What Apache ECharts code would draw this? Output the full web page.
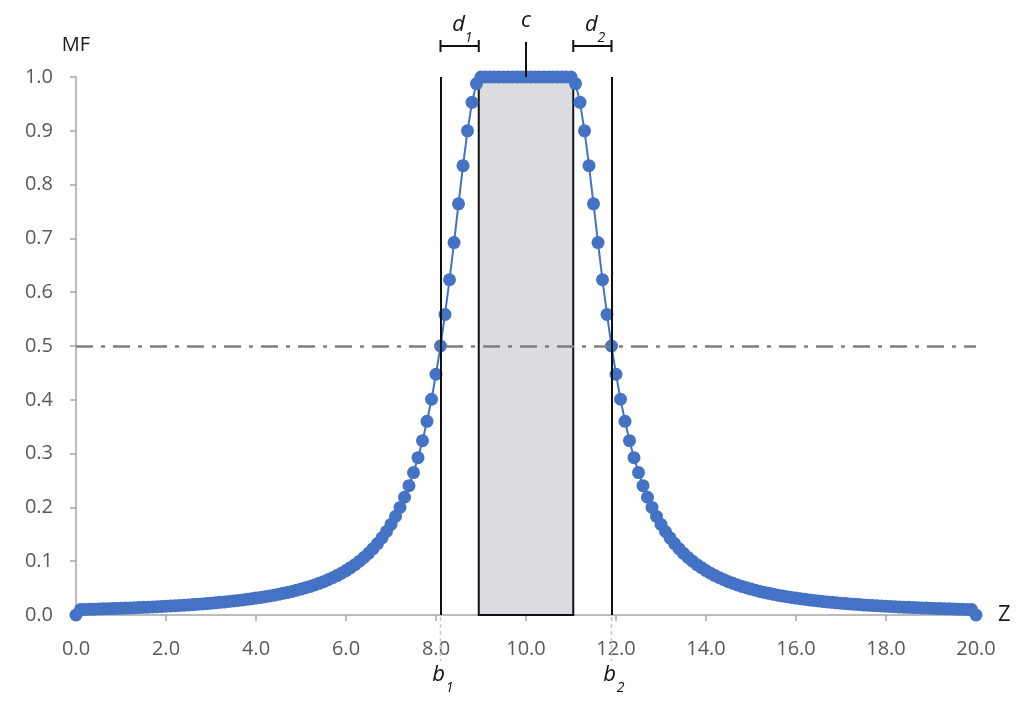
<!DOCTYPE html>
<html>
<head>
<meta charset="utf-8">
<style>
  html, body { margin: 0; padding: 0; background: #ffffff; }
  #chart { width: 1024px; height: 706px; }
</style>
<script src="https://cdn.jsdelivr.net/npm/echarts@6/dist/echarts.min.js"></script>
</head>
<body>
<div id="chart"></div>
<script>
// ---- data ----
const zValues = [
  0.0,0.1,0.2,0.3,0.4,0.5,0.6,0.7,0.8,0.9,
  1.0,1.1,1.2,1.3,1.4,1.5,1.6,1.7,1.8,1.9,
  2.0,2.1,2.2,2.3,2.4,2.5,2.6,2.7,2.8,2.9,
  3.0,3.1,3.2,3.3,3.4,3.5,3.6,3.7,3.8,3.9,
  4.0,4.1,4.2,4.3,4.4,4.5,4.6,4.7,4.8,4.9,
  5.0,5.1,5.2,5.3,5.4,5.5,5.6,5.7,5.8,5.9,
  6.0,6.1,6.2,6.3,6.4,6.5,6.6,6.7,6.8,6.9,
  7.0,7.1,7.2,7.3,7.4,7.5,7.6,7.7,7.8,7.9,
  8.0,8.1,8.2,8.3,8.4,8.5,8.6,8.7,8.8,8.9,
  9.0,9.1,9.2,9.3,9.4,9.5,9.6,9.7,9.8,9.9,
  10.0,10.1,10.2,10.3,10.4,10.5,10.6,10.7,10.8,10.9,
  11.0,11.1,11.2,11.3,11.4,11.5,11.6,11.7,11.8,11.9,
  12.0,12.1,12.2,12.3,12.4,12.5,12.6,12.7,12.8,12.9,
  13.0,13.1,13.2,13.3,13.4,13.5,13.6,13.7,13.8,13.9,
  14.0,14.1,14.2,14.3,14.4,14.5,14.6,14.7,14.8,14.9,
  15.0,15.1,15.2,15.3,15.4,15.5,15.6,15.7,15.8,15.9,
  16.0,16.1,16.2,16.3,16.4,16.5,16.6,16.7,16.8,16.9,
  17.0,17.1,17.2,17.3,17.4,17.5,17.6,17.7,17.8,17.9,
  18.0,18.1,18.2,18.3,18.4,18.5,18.6,18.7,18.8,18.9,
  19.0,19.1,19.2,19.3,19.4,19.5,19.6,19.7,19.8,19.9,
  20.0
];
const mfValues = [
  0,0.0101,0.0104,0.0106,0.0108,0.0111,0.0114,0.0116,0.0119,0.0122,
  0.0125,0.0128,0.0131,0.0135,0.0138,0.0142,0.0146,0.0150,0.0154,0.0158,
  0.0163,0.0167,0.0172,0.0177,0.0183,0.0188,0.0194,0.0200,0.0206,0.0213,
  0.0220,0.0227,0.0235,0.0243,0.0252,0.0261,0.0270,0.0280,0.0291,0.0302,
  0.0314,0.0326,0.0340,0.0354,0.0369,0.0385,0.0402,0.0420,0.0439,0.0460,
  0.0482,0.0506,0.0531,0.0559,0.0588,0.0620,0.0655,0.0692,0.0733,0.0777,
  0.0826,0.0879,0.0936,0.1000,0.1070,0.1147,0.1233,0.1328,0.1434,0.1552,
  0.1684,0.1833,0.2000,0.2189,0.2404,0.2647,0.2924,0.3240,0.3600,0.4010,
  0.4475,0.5000,0.5586,0.6231,0.6923,0.7642,0.8351,0.9000,0.9529,0.9878,
  1,1,1,1,1,1,1,1,1,1,
  1,1,1,1,1,1,1,1,1,1,
  1,0.9878,0.9529,0.9000,0.8351,0.7642,0.6923,0.6231,0.5586,0.5000,
  0.4475,0.4010,0.3600,0.3240,0.2924,0.2647,0.2404,0.2189,0.2000,0.1833,
  0.1684,0.1552,0.1434,0.1328,0.1233,0.1147,0.1070,0.1000,0.0936,0.0879,
  0.0826,0.0777,0.0733,0.0692,0.0655,0.0620,0.0588,0.0559,0.0531,0.0506,
  0.0482,0.0460,0.0439,0.0420,0.0402,0.0385,0.0369,0.0354,0.0340,0.0326,
  0.0314,0.0302,0.0291,0.0280,0.0270,0.0261,0.0252,0.0243,0.0235,0.0227,
  0.0220,0.0213,0.0206,0.0200,0.0194,0.0188,0.0183,0.0177,0.0172,0.0167,
  0.0163,0.0158,0.0154,0.0150,0.0146,0.0142,0.0138,0.0135,0.0131,0.0128,
  0.0125,0.0122,0.0119,0.0116,0.0114,0.0111,0.0108,0.0106,0.0104,0.0101,
  0
];
const halfLevel = 0.5;          // dash-dot reference line
const bValues = [8.1, 11.9];    // b1, b2 vertical lines
const coreRange = [8.95, 11.05];// shaded core rectangle
const cValue = 10;              // centre c
const xAxisName = 'Z';
const yAxisName = 'MF';

const FONT = 'Open Sans';
const chart = echarts.init(document.getElementById('chart'), null, { renderer: 'canvas' });

const points = zValues.map((z, i) => [z, mfValues[i]]);

const option = {
  animation: false,
  backgroundColor: '#ffffff',
  grid: { left: 76, right: 48, top: 77, bottom: 91, containLabel: false },
  xAxis: {
    type: 'value', min: 0, max: 20, interval: 2,
    name: xAxisName, nameLocation: 'end', nameGap: 22,
    nameTextStyle: { color: '#1a1a1a', fontSize: 22, fontFamily: FONT, padding: [14, 0, 0, 0] },
    axisLine: { show: true, onZero: false, lineStyle: { color: '#a6a6a6', width: 1.5 } },
    axisTick: { show: true, length: 6, lineStyle: { color: '#a6a6a6', width: 1.5 } },
    axisLabel: { color: '#595959', fontSize: 20, fontFamily: FONT, margin: 24,
                 formatter: v => v.toFixed(1) },
    splitLine: { show: false }
  },
  yAxis: {
    type: 'value', min: 0, max: 1, interval: 0.1,
    name: yAxisName, nameLocation: 'end', nameGap: 22,
    nameTextStyle: { color: '#1a1a1a', fontSize: 20, fontFamily: FONT },
    axisLine: { show: true, onZero: false, lineStyle: { color: '#a6a6a6', width: 1.5 } },
    axisTick: { show: true, length: 6, lineStyle: { color: '#a6a6a6', width: 1.5 } },
    axisLabel: { color: '#595959', fontSize: 20, fontFamily: FONT, margin: 23,
                 formatter: v => v.toFixed(1) },
    splitLine: { show: false }
  },
  series: [
    {
      name: 'MF', type: 'line', data: points, z: 2,
      symbol: 'circle', symbolSize: 13, showSymbol: true,
      itemStyle: { color: '#4472C4' },
      lineStyle: { color: '#4472C4', width: 2 },
      emphasis: { disabled: true }
    },
    {
      name: 'half', type: 'line', data: [], z: 3, silent: true,
      markLine: {
        silent: true, symbol: ['none', 'none'], label: { show: false },
        lineStyle: { color: '#7f7f7f', width: 2.5, type: [17, 8, 4, 8] },
        data: [{ yAxis: halfLevel }]
      }
    },
    {
      name: 'core', type: 'line', data: [], z: 4, silent: true,
      markArea: {
        silent: true,
        itemStyle: { color: 'rgba(190,192,197,0.55)', borderColor: '#111111', borderWidth: 2 },
        data: [[{ coord: [coreRange[0], 0] }, { coord: [coreRange[1], 1] }]]
      }
    },
    {
      name: 'b', type: 'line', data: [], z: 5, silent: true,
      markLine: {
        silent: true, symbol: ['none', 'none'], label: { show: false },
        lineStyle: { color: '#111111', width: 2, type: 'solid' },
        data: bValues.map(b => [{ coord: [b, 0] }, { coord: [b, 1] }])
      }
    }
  ]
};
chart.setOption(option);

// ---- annotations positioned through the axes ----
const P = (x, y) => chart.convertToPixel({ gridIndex: 0 }, [x, y]);
const yTop = P(cValue, 1)[1];
const yBottom = P(cValue, 0)[1];
const black = '#111111';
const g = [];
const line = (x1, y1, x2, y2, style) => g.push({ type: 'line', shape: { x1, y1, x2, y2 }, style: Object.assign({ stroke: black, lineWidth: 2 }, style || {}), silent: true, z: 100 });
const text = (x, y, t, size) => g.push({ type: 'text', x, y, silent: true, z: 100,
  style: { text: t, fill: black, font: 'italic ' + size + 'px "' + FONT + '"', align: 'center', verticalAlign: 'middle' } });

// c marker
const cx = P(cValue, 1)[0];
line(cx, yTop, cx, yTop - 35);
text(cx, yTop - 56, 'c', 22);

// d1 / d2 brackets
const brackets = [[bValues[0], coreRange[0], '1'], [coreRange[1], bValues[1], '2']];
brackets.forEach(([a, b, sub]) => {
  const xa = P(a, 1)[0], xb = P(b, 1)[0], y = yTop - 31;
  line(xa, y, xb, y);
  line(xa, y - 6, xa, y + 6);
  line(xb, y - 6, xb, y + 6);
  const mid = (xa + xb) / 2;
  text(mid - 1, yTop - 52, 'd', 22);
  text(mid + 9, yTop - 39, sub, 14);
});

// b labels and light dashed extensions below the axis
bValues.forEach((b, i) => {
  const xb = P(b, 0)[0];
  line(xb, yBottom + 2, xb, yBottom + 46, { stroke: '#c8c8c8', lineWidth: 1.5, lineDash: [4, 3] });
  text(xb - 2, yBottom + 60, 'b', 22);
  text(xb + 9, yBottom + 73, String(i + 1), 14);
});

chart.setOption({ graphic: g });
</script>
</body>
</html>
